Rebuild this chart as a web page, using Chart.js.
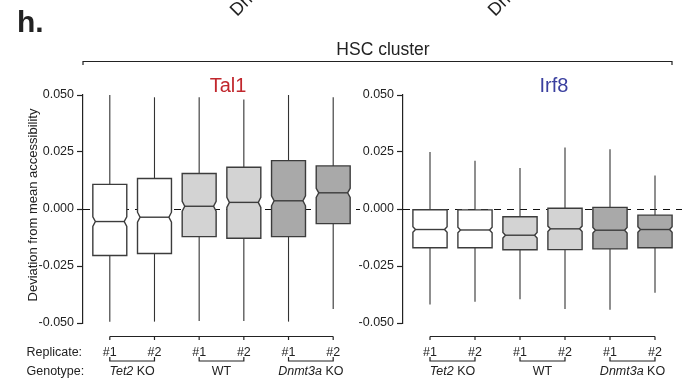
<!DOCTYPE html>
<html lang="en">
<head>
<meta charset="UTF-8">
<title>HSC cluster - Tal1 / Irf8</title>
<script src="https://cdn.jsdelivr.net/npm/chart.js@4"></script>
<style>
    body { margin: 0; background: #fff; }
    .wrap { position: relative; width: 696px; height: 381px; }
    .wrap canvas { position: absolute; left: 0; top: 0; }
</style>
</head>
<body>
<div class="wrap">
    <canvas id="tal1Chart" width="696" height="381"></canvas>
    <canvas id="irf8Chart" width="696" height="381"></canvas>
</div>
<script>
// sample order on the x axis
const replicates = ['#1', '#2', '#1', '#2', '#1', '#2'];
const genotypeGene = ['Tet2', '', 'Dnmt3a'];      // italic part
const genotypeRest = [' KO', 'WT', ' KO'];
const yTicks = [-0.05, -0.025, 0, 0.025, 0.05];

// Tal1 panel
const tal1WhiskerHigh = [0.050, 0.049, 0.049, 0.048, 0.050, 0.049];
const tal1Q3 = [0.0108, 0.0134, 0.0156, 0.0183, 0.0212, 0.0189];
const tal1Median = [-0.0055, -0.0036, 0.0012, 0.0029, 0.0036, 0.0071];
const tal1Q1 = [-0.0204, -0.0195, -0.0121, -0.0128, -0.0121, -0.0064];
const tal1WhiskerLow = [-0.0494, -0.0494, -0.0491, -0.0491, -0.0494, -0.0439];
const tal1Notch = [0.0021, 0.0022, 0.0022, 0.0022, 0.0022, 0.0020];

// Irf8 panel
const irf8WhiskerHigh = [0.0250, 0.0212, 0.0180, 0.0270, 0.0262, 0.0147];
const irf8Q3 = [-0.0003, -0.0004, -0.0034, 0.0003, 0.0007, -0.0027];
const irf8Median = [-0.0090, -0.0092, -0.0115, -0.0087, -0.0093, -0.0090];
const irf8Q1 = [-0.0170, -0.0170, -0.0179, -0.0178, -0.0175, -0.0170];
const irf8WhiskerLow = [-0.0419, -0.0407, -0.0396, -0.0439, -0.0442, -0.0367];
const irf8Notch = [0.0012, 0.0012, 0.0012, 0.0012, 0.0012, 0.0012];

const boxFills = ['#ffffff', '#ffffff', '#d3d3d3', '#d3d3d3', '#a9a9a9', '#a9a9a9'];
const FONT = 'Arial, "Liberation Sans", sans-serif';
const INK = '#222';

const panels = {
    tal1Chart: {
        title: 'Tal1', titleColor: '#c1272d', titleX: 228,
        hi: tal1WhiskerHigh, q3: tal1Q3, med: tal1Median, q1: tal1Q1, lo: tal1WhiskerLow, notch: tal1Notch,
        padLeft: 0, axisWidth: 83, padRight: 336, decor: true
    },
    irf8Chart: {
        title: 'Irf8', titleColor: '#3a3f9f', titleX: 554,
        hi: irf8WhiskerHigh, q3: irf8Q3, med: irf8Median, q1: irf8Q1, lo: irf8WhiskerLow, notch: irf8Notch,
        padLeft: 340, axisWidth: 63, padRight: 14, decor: false
    }
};

function line(ctx, x1, y1, x2, y2) {
    ctx.beginPath();
    ctx.moveTo(x1, y1);
    ctx.lineTo(x2, y2);
    ctx.stroke();
}

// draws "Tet2 KO" style labels with the gene part in italics
function mixedLabel(ctx, cx, y, gene, rest) {
    ctx.font = 'italic 12.5px ' + FONT;
    const w1 = ctx.measureText(gene).width;
    ctx.font = '12.5px ' + FONT;
    const w2 = ctx.measureText(rest).width;
    let x = cx - (w1 + w2) / 2;
    ctx.textAlign = 'left';
    ctx.font = 'italic 12.5px ' + FONT;
    ctx.fillText(gene, x, y);
    ctx.font = '12.5px ' + FONT;
    ctx.fillText(rest, x + w1, y);
}

const notchBoxPlugin = {
    id: 'notchBox',
    beforeDatasetsDraw(chart) {
        const p = panels[chart.canvas.id];
        const ctx = chart.ctx, xs = chart.scales.x, ys = chart.scales.y, area = chart.chartArea;
        ctx.save();

        // dashed zero line
        ctx.strokeStyle = '#111';
        ctx.lineWidth = 1.2;
        ctx.setLineDash([7, 6]);
        const y0 = Math.round(ys.getPixelForValue(0)) + 0.5;
        line(ctx, area.left, y0, area.right, y0);
        ctx.setLineDash([]);

        const boxWidth = 0.76, notchFrac = 0.85;
        replicates.forEach((_, i) => {
            const cx = xs.getPixelForValue(i + 1);
            const hw = xs.getPixelForValue(i + 1 + boxWidth / 2) - cx;
            const yHi = ys.getPixelForValue(p.hi[i]);
            const yQ3 = ys.getPixelForValue(p.q3[i]);
            const yMed = ys.getPixelForValue(p.med[i]);
            const yQ1 = ys.getPixelForValue(p.q1[i]);
            const yLo = ys.getPixelForValue(p.lo[i]);
            const yNu = ys.getPixelForValue(p.med[i] + p.notch[i]);
            const yNl = ys.getPixelForValue(p.med[i] - p.notch[i]);

            // whiskers
            ctx.strokeStyle = '#333';
            ctx.lineWidth = 1.1;
            line(ctx, cx, yHi, cx, yQ3);
            line(ctx, cx, yQ1, cx, yLo);

            // notched box
            const nw = hw * notchFrac;
            ctx.beginPath();
            ctx.moveTo(cx - hw, yQ3);
            ctx.lineTo(cx + hw, yQ3);
            ctx.lineTo(cx + hw, yNu);
            ctx.lineTo(cx + nw, yMed);
            ctx.lineTo(cx + hw, yNl);
            ctx.lineTo(cx + hw, yQ1);
            ctx.lineTo(cx - hw, yQ1);
            ctx.lineTo(cx - hw, yNl);
            ctx.lineTo(cx - nw, yMed);
            ctx.lineTo(cx - hw, yNu);
            ctx.closePath();
            ctx.fillStyle = boxFills[i];
            ctx.fill();
            ctx.strokeStyle = '#3c3c3c';
            ctx.lineWidth = 1.4;
            ctx.stroke();
            line(ctx, cx - nw, yMed, cx + nw, yMed);
        });
        ctx.restore();
    },
    afterDraw(chart) {
        const p = panels[chart.canvas.id];
        const ctx = chart.ctx, xs = chart.scales.x, area = chart.chartArea;
        ctx.save();
        ctx.fillStyle = INK;
        ctx.strokeStyle = INK;
        ctx.lineWidth = 1.2;

        // panel title
        ctx.font = '20px ' + FONT;
        ctx.textAlign = 'center';
        ctx.textBaseline = 'alphabetic';
        ctx.fillStyle = p.titleColor;
        ctx.fillText(p.title, p.titleX, 92);
        ctx.fillStyle = INK;

        // replicate axis
        const xFirst = xs.getPixelForValue(1), xLast = xs.getPixelForValue(replicates.length);
        const yAxis = area.bottom + 13.5;
        line(ctx, xFirst, yAxis, xLast, yAxis);
        ctx.font = '12.5px ' + FONT;
        replicates.forEach((r, i) => {
            const x = xs.getPixelForValue(i + 1);
            line(ctx, x, yAxis, x, yAxis + 3.5);
            ctx.textAlign = 'center';
            ctx.fillText(r, x, area.bottom + 33);
        });

        // genotype brackets
        const yBr = area.bottom + 38;
        genotypeGene.forEach((g, k) => {
            const xa = xs.getPixelForValue(2 * k + 1), xb = xs.getPixelForValue(2 * k + 2);
            ctx.beginPath();
            ctx.moveTo(xa, yBr - 4);
            ctx.lineTo(xa, yBr);
            ctx.lineTo(xb, yBr);
            ctx.lineTo(xb, yBr - 4);
            ctx.stroke();
            mixedLabel(ctx, (xa + xb) / 2, area.bottom + 51.5, g, genotypeRest[k]);
        });

        if (p.decor) {
            ctx.textAlign = 'left';
            ctx.font = '12.5px ' + FONT;
            ctx.fillText('Replicate:', 26.5, area.bottom + 33);
            ctx.fillText('Genotype:', 26.5, area.bottom + 51.5);

            // y axis title
            ctx.save();
            ctx.translate(37, 205);
            ctx.rotate(-Math.PI / 2);
            ctx.textAlign = 'center';
            ctx.font = '13px ' + FONT;
            ctx.fillText('Deviation from mean accessibility', 0, 0);
            ctx.restore();

            // figure letter
            ctx.font = 'bold 30px ' + FONT;
            ctx.fillText('h.', 17, 32);

            // cluster header with bracket
            ctx.font = '17.5px ' + FONT;
            ctx.textAlign = 'center';
            ctx.fillText('HSC cluster', 383, 55);
            ctx.beginPath();
            ctx.moveTo(83, 65);
            ctx.lineTo(83, 61.5);
            ctx.lineTo(672, 61.5);
            ctx.lineTo(672, 65);
            ctx.stroke();

            // rotated labels cut off by the top edge
            ctx.font = '18px ' + FONT;
            ctx.textAlign = 'left';
            [[237, 17], [495, 17]].forEach(([x, y]) => {
                ctx.save();
                ctx.translate(x, y);
                ctx.rotate(-Math.PI / 4);
                ctx.fillText('Dnmt3a KO', 0, 0);
                ctx.restore();
            });
        }
        ctx.restore();
    }
};

function makeChart(id) {
    const p = panels[id];
    return new Chart(document.getElementById(id), {
        type: 'scatter',
        data: {
            datasets: [{
                data: p.med.map((m, i) => ({ x: i + 1, y: m })),
                pointRadius: 0
            }]
        },
        options: {
            responsive: false,
            animation: false,
            devicePixelRatio: 1,
            layout: { padding: { left: p.padLeft, right: p.padRight, top: 95, bottom: 58 } },
            plugins: { legend: { display: false }, tooltip: { enabled: false } },
            scales: {
                x: { type: 'linear', min: 0.4, max: 6.6, display: false },
                y: {
                    min: -0.05,
                    max: 0.05,
                    afterBuildTicks: s => { s.ticks = yTicks.map(v => ({ value: v })); },
                    afterFit: s => { s.width = p.axisWidth; },
                    ticks: {
                        color: INK,
                        padding: 3,
                        font: { family: FONT, size: 12.5 },
                        callback: v => (Math.abs(v) < 1e-9 ? 0 : v).toFixed(3)
                    },
                    grid: { drawOnChartArea: false, tickLength: 6, color: INK, tickWidth: 1.2 },
                    border: { color: INK, width: 1.2 }
                }
            }
        },
        plugins: [notchBoxPlugin]
    });
}

makeChart('tal1Chart');
makeChart('irf8Chart');
</script>
</body>
</html>
